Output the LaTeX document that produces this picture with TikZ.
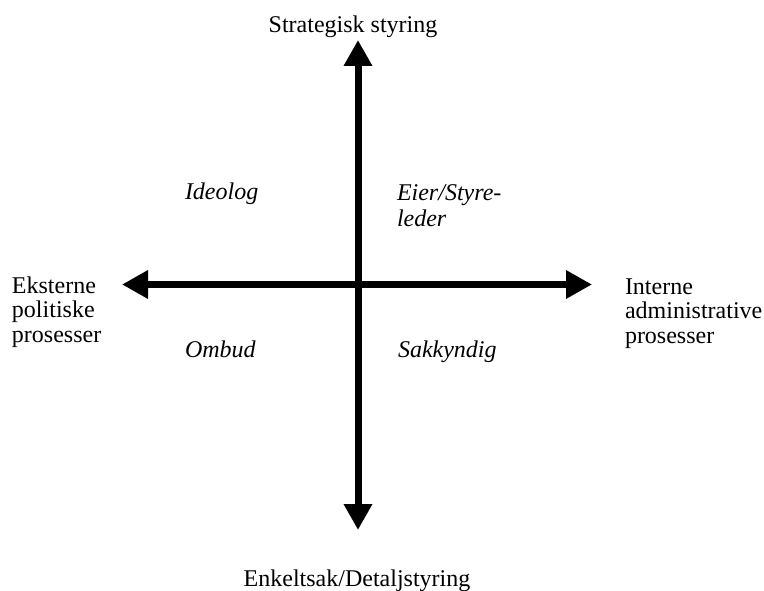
\documentclass[tikz,border=0pt]{standalone}
\usepackage{fontspec}
\setmainfont{Liberation Serif}
\usetikzlibrary{arrows.meta}
\tikzset{
  lbl/.style={inner sep=0pt, outer sep=0pt, font=\fontsize{24}{24.5}\selectfont},
  role/.style={inner sep=0pt, outer sep=0pt, font=\fontsize{24}{27}\selectfont\itshape},
  axis/.style={line width=7pt, -{Triangle[width=27pt,length=26pt]}},
}
\begin{document}
\begin{tikzpicture}[x=1pt,y=-1pt]
  \useasboundingbox (0,0) rectangle (764,591);
  % axes
  \coordinate (c) at (358,284.5);
  \coordinate (top) at (358,40);
  \coordinate (bot) at (358,530);
  \coordinate (lft) at (122,284.5);
  \coordinate (rgt) at (592,284.5);
  \draw[axis] (c) -- (top);
  \draw[axis] (c) -- (bot);
  \draw[axis] (c) -- (lft);
  \draw[axis] (c) -- (rgt);
  % axis labels (multi-line nodes: base anchor sits on the last line)
  \node[lbl, anchor=base] (strat) at (353,33) {Strategisk styring};
  \node[lbl, anchor=base] (enkelt) at (357,586) {Enkeltsak/Detaljstyring};
  \node[lbl, anchor=base west, align=left] (ekst) at (12,342) {Eksterne\\politiske\\prosesser};
  \node[lbl, anchor=base west, align=left] (int) at (625,343) {Interne\\administrative\\prosesser};
  % quadrant roles
  \node[role, anchor=base west] (ideolog) at (185,200) {Ideolog};
  \node[role, anchor=base west, align=left] (eier) at (397,227) {Eier/Styre-\\leder};
  \node[role, anchor=base west] (ombud) at (185,357) {Ombud};
  \node[role, anchor=base west] (sakk) at (398,357) {Sakkyndig};
\end{tikzpicture}
\end{document}
